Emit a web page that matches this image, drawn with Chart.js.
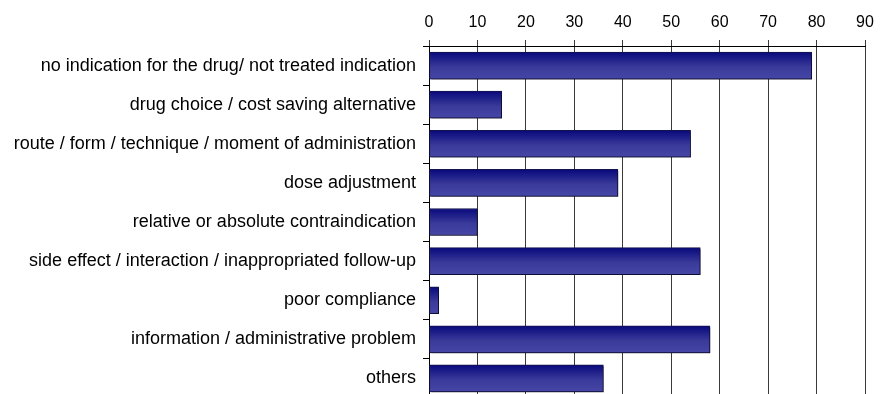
<!DOCTYPE html>
<html><head><meta charset="utf-8">
<script src="https://cdn.jsdelivr.net/npm/chart.js@4.4.1/dist/chart.umd.min.js"></script>
<style>html,body{margin:0;padding:0;overflow:hidden;background:#fff}canvas{display:block}</style>
</head><body><canvas id="c" width="886" height="400" style="width:886px;height:400px"></canvas>
<script>
const categories = [
  "no indication for the drug/ not treated indication",
  "drug choice / cost saving alternative",
  "route / form / technique / moment of administration",
  "dose adjustment",
  "relative or absolute contraindication",
  "side effect / interaction / inappropriated follow-up",
  "poor compliance",
  "information / administrative problem",
  "others"
];
const values = [79, 15, 54, 39, 10, 56, 2, 58, 36];
const xTicks = [0, 10, 20, 30, 40, 50, 60, 70, 80, 90];

const BAR_T = 27;
function barFill(c) {
  const chart = c.chart;
  const ys = chart.scales && chart.scales.y;
  if (!ys || !chart.chartArea) return '#2c2c92';
  const cy = ys.getPixelForValue(c.dataIndex);
  const g = chart.ctx.createLinearGradient(0, cy - BAR_T / 2, 0, cy + BAR_T / 2);
  g.addColorStop(0, '#08087c');
  g.addColorStop(0.55, '#3a3a9a');
  g.addColorStop(1, '#4646a6');
  return g;
}

const shadowPlugin = {
  id: 'barShadow',
  beforeDatasetsDraw(chart) {
    const ctx = chart.ctx;
    ctx.save();
    ctx.shadowColor = 'rgba(0,0,0,0.35)';
    ctx.shadowOffsetX = 1.5;
    ctx.shadowOffsetY = 1.5;
    ctx.shadowBlur = 0;
  },
  afterDatasetsDraw(chart) {
    chart.ctx.restore();
  }
};

Chart.defaults.font.family = '"Liberation Sans", Arial, sans-serif';
Chart.defaults.color = '#000';

new Chart(document.getElementById('c'), {
  type: 'bar',
  data: {
    labels: categories,
    datasets: [{
      data: values,
      backgroundColor: barFill,
      borderColor: '#14144a',
      borderWidth: 1,
      borderSkipped: false,
      barThickness: BAR_T
    }]
  },
  plugins: [shadowPlugin],
  options: {
    indexAxis: 'y',
    responsive: false,
    animation: false,
    layout: { padding: { left: 0, right: 21, top: 0, bottom: 2 } },
    plugins: { legend: { display: false }, tooltip: { enabled: false } },
    scales: {
      x: {
        position: 'top',
        min: 0, max: 90,
        afterBuildTicks: (s) => { s.ticks = xTicks.map(v => ({ value: v })); },
        ticks: { padding: 8, maxRotation: 0, font: { size: 16 } },
        grid: { color: '#3a3a3a', lineWidth: 1, tickLength: 6, drawTicks: true },
        border: { display: true, color: '#000', width: 1 },
        afterFit: (s) => { s.height = 46; s.paddingLeft = 0; s.paddingRight = 0; }
      },
      y: {
        ticks: { padding: 7, font: { size: 18 }, autoSkip: false },
        grid: { offset: true, drawOnChartArea: false, drawTicks: true, tickLength: 6, color: '#000' },
        border: { display: true, color: '#000', width: 1 },
        afterFit: (s) => { s.width = 429; s.paddingTop = 0; s.paddingBottom = 0; }
      }
    }
  }
});
</script>
</body></html>
